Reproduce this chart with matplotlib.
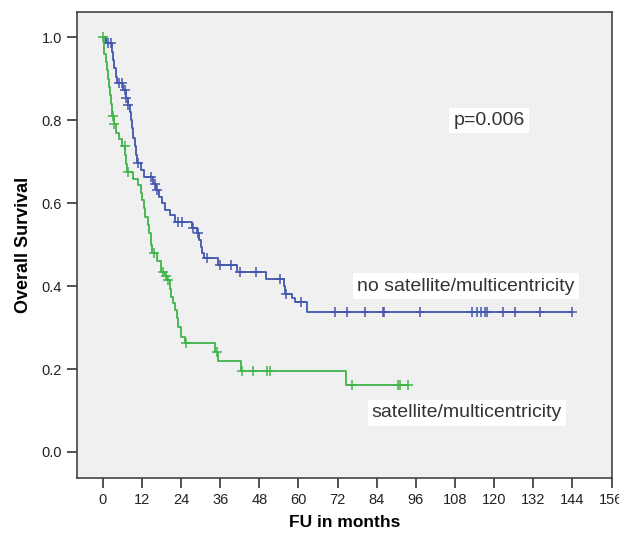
import matplotlib.pyplot as plt

plt.rcParams['font.family'] = ['Liberation Sans', 'DejaVu Sans']

# no satellite/multicentricity: step times and survival after each drop
blue_t = [0, 1.0, 2.9, 3.2, 3.5, 3.9, 4.3, 6.3, 7.0, 7.6, 8.2, 8.6, 9.0, 9.4, 9.8, 10.2, 10.6,
          11.8, 12.6, 15.5, 16.2, 17.2, 18.2, 19.0, 20.5, 22.0, 27.3, 28.8, 29.6, 30.0, 30.4,
          31.0, 35.4, 41.0, 50.0, 55.5, 56.0, 58.0, 59.0, 62.5, 143.8]
blue_s = [1.0, 0.985, 0.965, 0.945, 0.925, 0.905, 0.89, 0.873, 0.853, 0.837, 0.82, 0.80, 0.78,
          0.757, 0.737, 0.717, 0.696, 0.679, 0.663, 0.647, 0.631, 0.615, 0.599, 0.583, 0.571,
          0.555, 0.539, 0.527, 0.511, 0.495, 0.479, 0.467, 0.451, 0.434, 0.418, 0.40, 0.382,
          0.372, 0.362, 0.338, 0.338]
blue_cens_t = [1.7, 2.4, 5.1, 6.0, 6.7, 7.2, 7.8, 10.9, 14.9, 15.9, 16.5, 23.2, 24.3, 27.7,
               29.2, 31.8, 35.9, 39.4, 42.0, 47.1, 54.4, 56.3, 60.9, 71.2, 74.9, 80.4, 85.8,
               86.2, 97.2, 113.1, 114.6, 116.1, 117.2, 117.9, 122.6, 126.4, 134.0, 143.8]
blue_cens_s = [0.985, 0.985, 0.89, 0.89, 0.873, 0.853, 0.837, 0.696, 0.663, 0.647, 0.631,
               0.555, 0.555, 0.539, 0.527, 0.467, 0.451, 0.451, 0.434, 0.434, 0.418, 0.382,
               0.362, 0.338, 0.338, 0.338, 0.338, 0.338, 0.338, 0.338, 0.338, 0.338, 0.338,
               0.338, 0.338, 0.338, 0.338, 0.338]

# satellite/multicentricity
green_t = [0, 0.5, 1.0, 1.3, 1.6, 1.9, 2.2, 2.5, 2.8, 3.3, 4.0, 5.0, 5.8, 6.8, 7.2, 7.5, 9.3,
           10.8, 11.6, 11.9, 12.5, 13.0, 13.7, 14.1, 14.7, 15.2, 16.5, 17.8, 19.2, 19.8, 20.5,
           21.0, 21.5, 22.0, 22.6, 23.1, 24.0, 25.2, 34.4, 35.4, 42.5, 74.7, 93.6]
green_s = [1.0, 0.96, 0.94, 0.92, 0.90, 0.88, 0.86, 0.84, 0.81, 0.79, 0.77, 0.755, 0.737,
           0.715, 0.695, 0.675, 0.657, 0.643, 0.625, 0.607, 0.587, 0.567, 0.547, 0.527, 0.50,
           0.48, 0.46, 0.434, 0.424, 0.414, 0.394, 0.374, 0.358, 0.342, 0.322, 0.302, 0.278,
           0.262, 0.242, 0.22, 0.196, 0.161, 0.161]
green_cens_t = [0.2, 3.0, 3.4, 6.7, 7.7, 15.6, 18.5, 19.5, 20.0, 25.6, 35.0, 42.6, 46.0, 50.2,
                51.2, 76.3, 90.6, 91.1, 93.6]
green_cens_s = [1.0, 0.81, 0.79, 0.737, 0.675, 0.48, 0.434, 0.424, 0.414, 0.262, 0.242, 0.196,
                0.196, 0.196, 0.196, 0.161, 0.161, 0.161, 0.161]

blue = '#4257ad'
green = '#3fb54a'

fig = plt.figure(figsize=(6.19, 5.33), dpi=100)
ax = fig.add_axes([0.124, 0.103, 0.865, 0.874])
ax.set_facecolor('#f0f0f0')

ax.step(blue_t, blue_s, where='post', color=blue, lw=1.3)
ax.plot(blue_cens_t, blue_cens_s, '+', color=blue, ms=7, mew=1.1)
ax.step(green_t, green_s, where='post', color=green, lw=1.3)
ax.plot(green_cens_t, green_cens_s, '+', color=green, ms=7, mew=1.1)

ax.set_xlim(-8, 156.2)
ax.set_ylim(-0.063, 1.06)
ax.set_xticks(range(0, 157, 12))
ax.set_yticks([0.0, 0.2, 0.4, 0.6, 0.8, 1.0])
ax.set_yticklabels(['0.0', '0.2', '0.4', '0.6', '0.8', '1.0'])
ax.tick_params(direction='out', length=7, width=1.2, colors='#333333', labelsize=10.5,
               labelcolor='#222222')
for sp in ax.spines.values():
    sp.set_color('#444444')
    sp.set_linewidth(1.2)

ax.set_xlabel('FU in months', fontsize=12.5, fontweight='bold', labelpad=6)
ax.set_ylabel('Overall Survival', fontsize=13, fontweight='bold', labelpad=7)

box = dict(facecolor='white', edgecolor='none', pad=3)
ax.text(107.5, 0.80, 'p=0.006', fontsize=14, color='#333333', va='center', ha='left', bbox=box)
ax.text(78.0, 0.40, 'no satellite/multicentricity', fontsize=14, color='#333333',
        va='center', ha='left', bbox=box)
ax.text(82.5, 0.094, 'satellite/multicentricity', fontsize=14, color='#333333',
        va='center', ha='left', bbox=box)

fig.savefig('out.png', dpi=100)
